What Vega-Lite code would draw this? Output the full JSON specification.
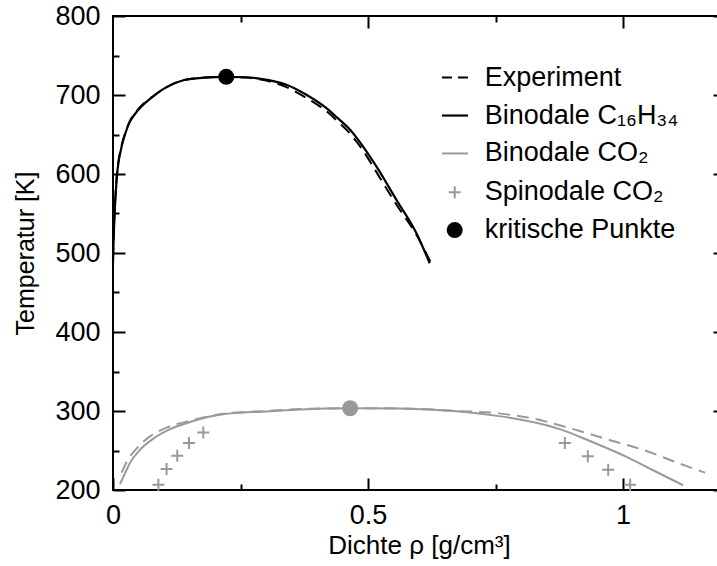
{
  "$schema": "https://vega.github.io/schema/vega-lite/v6.json",
  "autosize": "none",
  "width": 612,
  "height": 474,
  "padding": {"left": 113, "top": 16, "right": -8, "bottom": 76},
  "background": "white",
  "config": {
    "view": {"stroke": "black", "strokeWidth": 2},
    "font": "Liberation Sans",
    "axis": {
      "domain": false, "grid": false,
      "labelFont": "Liberation Sans", "labelFontSize": 27, "labelColor": "black",
      "tickColor": "black", "tickWidth": 2,
      "titleFont": "Liberation Sans", "titleFontSize": 25, "titleFontWeight": "normal", "titleColor": "black"
    }
  },
  "resolve": {"axis": {"x": "independent", "y": "independent"}},
  "layer": [
    {
      "data": {"values": [
        {"rho": 0.000, "T": 488, "part": "curve"}, {"rho": 0.001, "T": 512, "part": "curve"}, {"rho": 0.0025, "T": 540, "part": "curve"},
        {"rho": 0.007, "T": 592, "part": "curve"}, {"rho": 0.017, "T": 635, "part": "curve"}, {"rho": 0.025, "T": 653, "part": "curve"},
        {"rho": 0.033, "T": 666, "part": "curve"}, {"rho": 0.042, "T": 675, "part": "curve"}, {"rho": 0.052, "T": 683, "part": "curve"},
        {"rho": 0.065, "T": 691, "part": "curve"}, {"rho": 0.080, "T": 699, "part": "curve"}, {"rho": 0.100, "T": 708, "part": "curve"},
        {"rho": 0.140, "T": 719, "part": "curve"}, {"rho": 0.180, "T": 722, "part": "curve"},
        {"rho": 0.222, "T": 723, "part": "curve"}, {"rho": 0.260, "T": 722.5, "part": "curve"}, {"rho": 0.290, "T": 720.5, "part": "curve"},
        {"rho": 0.340, "T": 713, "part": "curve"}, {"rho": 0.380, "T": 700, "part": "curve"}, {"rho": 0.425, "T": 680, "part": "curve"},
        {"rho": 0.440, "T": 671, "part": "curve"}, {"rho": 0.465, "T": 656, "part": "curve"}, {"rho": 0.490, "T": 635, "part": "curve"},
        {"rho": 0.517, "T": 609, "part": "curve"}, {"rho": 0.556, "T": 567, "part": "curve"},
        {"rho": 0.595, "T": 525, "part": "curve"}, {"rho": 0.621, "T": 487, "part": "curve"},
        {"rho": 0.645, "T": 674, "part": "legend"}, {"rho": 0.696, "T": 674, "part": "legend"}
      ]},
      "mark": {"type": "line", "color": "black", "strokeWidth": 2.2, "interpolate": "monotone"},
      "encoding": {
        "x": {"field": "rho", "type": "quantitative", "scale": {"domain": [0, 1.2], "nice": false, "zero": false},
              "axis": {"orient": "bottom", "values": [0, 0.5, 1], "format": "~g", "tickSize": -12, "labelPadding": 24, "labelFlush": false,
                       "title": "Dichte ρ [g/cm³]", "titleFontSize": 26, "titlePadding": 4}},
        "y": {"field": "T", "type": "quantitative", "scale": {"domain": [200, 800], "nice": false, "zero": false},
              "axis": {"orient": "left", "values": [200, 300, 400, 500, 600, 700, 800], "format": "d", "tickSize": -12, "labelPadding": 25,
                       "title": "Temperatur [K]", "titlePadding": 16}},
        "detail": {"field": "part"}
      }
    },
    {
      "data": {"values": [
        {"rho": 0.000, "T": 492, "part": "curve"}, {"rho": 0.001, "T": 515, "part": "curve"}, {"rho": 0.0025, "T": 542, "part": "curve"},
        {"rho": 0.007, "T": 594, "part": "curve"}, {"rho": 0.017, "T": 636, "part": "curve"}, {"rho": 0.025, "T": 654, "part": "curve"},
        {"rho": 0.033, "T": 667, "part": "curve"}, {"rho": 0.042, "T": 676, "part": "curve"}, {"rho": 0.052, "T": 684, "part": "curve"},
        {"rho": 0.065, "T": 692, "part": "curve"}, {"rho": 0.080, "T": 699, "part": "curve"}, {"rho": 0.100, "T": 708, "part": "curve"},
        {"rho": 0.140, "T": 719, "part": "curve"}, {"rho": 0.180, "T": 722, "part": "curve"},
        {"rho": 0.222, "T": 723, "part": "curve"}, {"rho": 0.260, "T": 722, "part": "curve"}, {"rho": 0.290, "T": 719.5, "part": "curve"},
        {"rho": 0.340, "T": 710, "part": "curve"}, {"rho": 0.380, "T": 696, "part": "curve"}, {"rho": 0.425, "T": 676, "part": "curve"},
        {"rho": 0.440, "T": 667, "part": "curve"}, {"rho": 0.465, "T": 651, "part": "curve"}, {"rho": 0.490, "T": 630, "part": "curve"},
        {"rho": 0.516, "T": 603, "part": "curve"}, {"rho": 0.556, "T": 561, "part": "curve"},
        {"rho": 0.595, "T": 523, "part": "curve"}, {"rho": 0.626, "T": 484, "part": "curve"},
        {"rho": 0.645, "T": 722, "part": "legend"}, {"rho": 0.696, "T": 722, "part": "legend"}
      ]},
      "mark": {"type": "line", "color": "black", "strokeWidth": 2, "interpolate": "monotone"},
      "encoding": {
        "x": {"field": "rho", "type": "quantitative", "scale": {"domain": [0, 1.2], "nice": false, "zero": false},
              "axis": {"orient": "bottom", "values": [0.25, 0.75], "tickSize": -6, "labels": false, "title": null}},
        "y": {"field": "T", "type": "quantitative", "scale": {"domain": [200, 800], "nice": false, "zero": false},
              "axis": {"orient": "left", "values": [250, 350, 450, 550, 650, 750], "tickSize": -6, "labels": false, "title": null}},
        "detail": {"field": "part"},
        "strokeDash": {"field": "part", "type": "nominal", "scale": {"domain": ["curve", "legend"], "range": [[12, 7], [10, 6]]}, "legend": null}
      }
    },
    {
      "data": {"values": [
        {"rho": 0.0137, "T": 207.5, "part": "curve"}, {"rho": 0.0235, "T": 221, "part": "curve"}, {"rho": 0.033, "T": 234, "part": "curve"},
        {"rho": 0.053, "T": 251, "part": "curve"}, {"rho": 0.079, "T": 265, "part": "curve"}, {"rho": 0.112, "T": 277, "part": "curve"},
        {"rho": 0.151, "T": 286, "part": "curve"}, {"rho": 0.190, "T": 293, "part": "curve"}, {"rho": 0.230, "T": 297, "part": "curve"},
        {"rho": 0.300, "T": 299.5, "part": "curve"}, {"rho": 0.367, "T": 302, "part": "curve"}, {"rho": 0.465, "T": 303.5, "part": "curve"},
        {"rho": 0.560, "T": 303.3, "part": "curve"}, {"rho": 0.628, "T": 301.5, "part": "curve"}, {"rho": 0.700, "T": 298, "part": "curve"},
        {"rho": 0.757, "T": 293.5, "part": "curve"}, {"rho": 0.834, "T": 284.5, "part": "curve"}, {"rho": 0.876, "T": 277, "part": "curve"},
        {"rho": 0.935, "T": 262, "part": "curve"}, {"rho": 1.010, "T": 241, "part": "curve"}, {"rho": 1.059, "T": 225, "part": "curve"},
        {"rho": 1.118, "T": 206, "part": "curve"},
        {"rho": 0.645, "T": 626, "part": "legend"}, {"rho": 0.696, "T": 626, "part": "legend"}
      ]},
      "mark": {"type": "line", "color": "#999999", "strokeWidth": 2, "interpolate": "monotone"},
      "encoding": {
        "x": {"field": "rho", "type": "quantitative", "scale": {"domain": [0, 1.2], "nice": false, "zero": false},
              "axis": {"orient": "top", "values": [0.5, 1], "tickSize": -12, "labels": false, "title": null}},
        "y": {"field": "T", "type": "quantitative", "scale": {"domain": [200, 800], "nice": false, "zero": false},
              "axis": {"orient": "right", "values": [200, 300, 400, 500, 600, 700, 800], "tickSize": -12, "labels": false, "title": null}},
        "detail": {"field": "part"}
      }
    },
    {
      "data": {"values": [
        {"rho": 0.017, "T": 222}, {"rho": 0.027, "T": 236}, {"rho": 0.047, "T": 253}, {"rho": 0.072, "T": 267.5},
        {"rho": 0.105, "T": 279}, {"rho": 0.151, "T": 287.5}, {"rho": 0.190, "T": 293.5}, {"rho": 0.230, "T": 297.5},
        {"rho": 0.300, "T": 300}, {"rho": 0.367, "T": 302.5}, {"rho": 0.465, "T": 303.5}, {"rho": 0.560, "T": 303.3},
        {"rho": 0.628, "T": 301.8}, {"rho": 0.660, "T": 300.5}, {"rho": 0.757, "T": 297}, {"rho": 0.820, "T": 291},
        {"rho": 0.892, "T": 279}, {"rho": 0.975, "T": 263}, {"rho": 1.050, "T": 248.5}, {"rho": 1.100, "T": 236},
        {"rho": 1.161, "T": 222}
      ]},
      "mark": {"type": "line", "color": "#999999", "strokeWidth": 2, "strokeDash": [12, 7], "interpolate": "monotone"},
      "encoding": {
        "x": {"field": "rho", "type": "quantitative", "scale": {"domain": [0, 1.2], "nice": false, "zero": false},
              "axis": {"orient": "top", "values": [0.25, 0.75], "tickSize": -6, "labels": false, "title": null}},
        "y": {"field": "T", "type": "quantitative", "scale": {"domain": [200, 800], "nice": false, "zero": false},
              "axis": {"orient": "right", "values": [250, 350, 450, 550, 650, 750], "tickSize": -6, "labels": false, "title": null}}
      }
    },
    {
      "data": {"values": [
        {"rho": 0.089, "T": 206.7}, {"rho": 0.105, "T": 226.6}, {"rho": 0.126, "T": 243.4}, {"rho": 0.149, "T": 259.5}, {"rho": 0.177, "T": 272.9},
        {"rho": 0.886, "T": 259.5}, {"rho": 0.931, "T": 242.6}, {"rho": 0.971, "T": 225.7}, {"rho": 1.014, "T": 206.7},
        {"rho": 0.67, "T": 577}
      ]},
      "mark": {"type": "point", "shape": "M-1,0H1M0,-1V1", "filled": false, "stroke": "#999999", "strokeWidth": 2, "size": 144, "opacity": 1},
      "encoding": {
        "x": {"field": "rho", "type": "quantitative", "scale": {"domain": [0, 1.2], "nice": false, "zero": false}, "axis": null},
        "y": {"field": "T", "type": "quantitative", "scale": {"domain": [200, 800], "nice": false, "zero": false}, "axis": null}
      }
    },
    {
      "data": {"values": [
        {"rho": 0.222, "T": 723, "kind": "C16H34"},
        {"rho": 0.465, "T": 303.5, "kind": "CO2"},
        {"rho": 0.67, "T": 529, "kind": "C16H34"}
      ]},
      "mark": {"type": "point", "shape": "circle", "filled": true, "size": 256, "opacity": 1},
      "encoding": {
        "x": {"field": "rho", "type": "quantitative", "scale": {"domain": [0, 1.2], "nice": false, "zero": false}, "axis": null},
        "y": {"field": "T", "type": "quantitative", "scale": {"domain": [200, 800], "nice": false, "zero": false}, "axis": null},
        "color": {"field": "kind", "type": "nominal", "scale": {"domain": ["C16H34", "CO2"], "range": ["black", "#999999"]}, "legend": null}
      }
    },
    {
      "data": {"values": [
        {"label": "Experiment", "rho": 0.729, "T": 722},
        {"label": "Binodale C₁₆H₃₄", "rho": 0.729, "T": 674},
        {"label": "Binodale CO₂", "rho": 0.729, "T": 626},
        {"label": "Spinodale CO₂", "rho": 0.729, "T": 577},
        {"label": "kritische Punkte", "rho": 0.729, "T": 529}
      ]},
      "mark": {"type": "text", "align": "left", "baseline": "middle", "fontSize": 27, "font": "Liberation Sans", "color": "black"},
      "encoding": {
        "x": {"field": "rho", "type": "quantitative", "scale": {"domain": [0, 1.2], "nice": false, "zero": false}, "axis": null},
        "y": {"field": "T", "type": "quantitative", "scale": {"domain": [200, 800], "nice": false, "zero": false}, "axis": null},
        "text": {"field": "label"}
      }
    }
  ]
}
